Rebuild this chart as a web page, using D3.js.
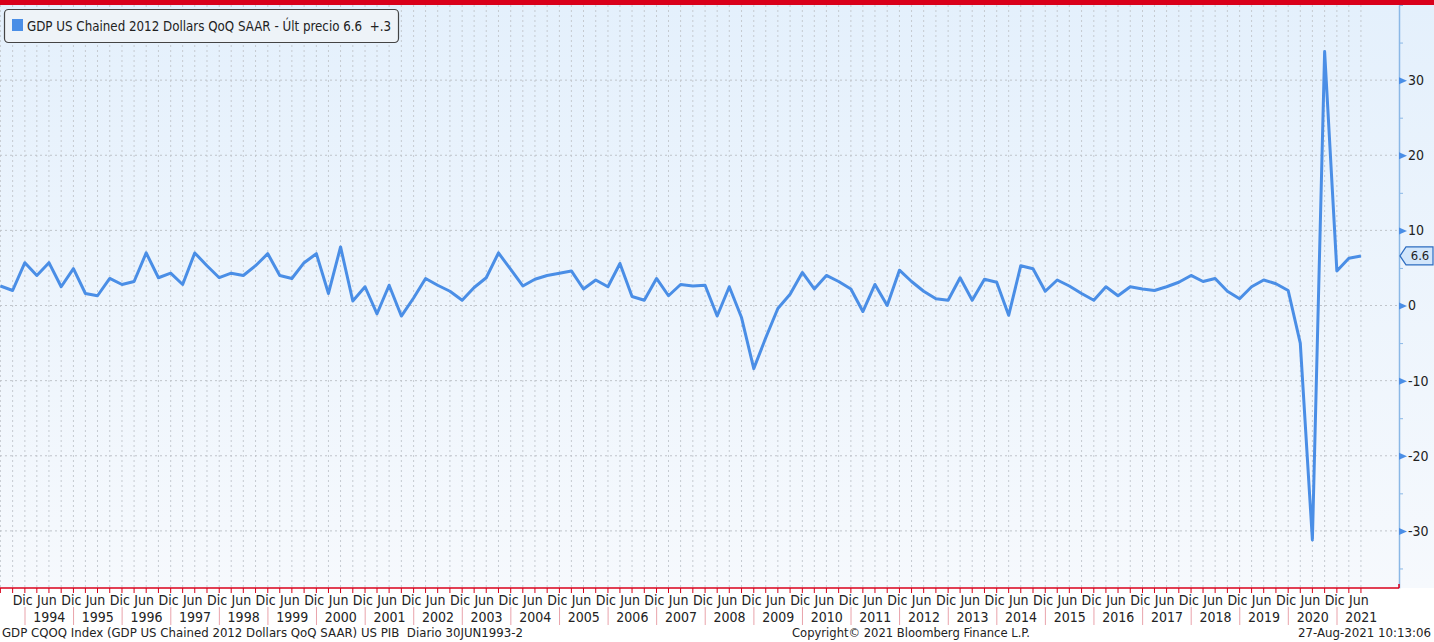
<!DOCTYPE html>
<html>
<head>
<meta charset="utf-8">
<script src="https://cdn.jsdelivr.net/npm/d3@7"></script>
<style>
  body { margin: 0; background: #fff; }
  svg text { font-family: 'DejaVu Sans Condensed', 'Liberation Sans Narrow', 'Liberation Sans', sans-serif; fill: #222; white-space: pre; }
</style>
</head>
<body>
<svg id="chart" width="1434" height="642"></svg>
<script>
// quarterly GDP QoQ SAAR, 1993 Q2 .. 2021 Q2
const firstYear = 1993
const firstQuarter = 2
const gdpQoQ = [
    2.6, 2.0, 5.7,
    4.0, 5.7, 2.5, 4.9,
    1.6, 1.3, 3.6, 2.8,
    3.2, 7.0, 3.7, 4.3,
    2.8, 7.0, 5.3, 3.7,
    4.3, 4.0, 5.3, 6.9,
    4.0, 3.6, 5.7, 6.9,
    1.6, 7.8, 0.6, 2.5,
    -1.1, 2.7, -1.4, 1.0,
    3.6, 2.7, 1.9, 0.7,
    2.4, 3.7, 7.0, 4.8,
    2.6, 3.5, 4.0, 4.3,
    4.6, 2.2, 3.4, 2.5,
    5.6, 1.2, 0.7, 3.6,
    1.3, 2.8, 2.6, 2.7,
    -1.4, 2.5, -1.6, -8.4,
    -4.3, -0.4, 1.5, 4.4,
    2.2, 4.0, 3.2, 2.2,
    -0.8, 2.8, 0.0, 4.7,
    3.2, 1.9, 0.9, 0.7,
    3.7, 0.7, 3.5, 3.1,
    -1.3, 5.3, 4.9, 1.9,
    3.4, 2.6, 1.6, 0.7,
    2.5, 1.3, 2.5, 2.2,
    2.0, 2.5, 3.1, 4.0,
    3.2, 3.6, 1.9, 0.9,
    2.5, 3.4, 2.9, 2.0,
    -5.0, -31.2, 33.8, 4.6,
    6.3, 6.6
]
const yearLabels = [1994, 1995, 1996, 1997, 1998, 1999, 2000, 2001, 2002, 2003, 2004, 2005, 2006, 2007,
    2008, 2009, 2010, 2011, 2012, 2013, 2014, 2015, 2016, 2017, 2018, 2019, 2020, 2021]
const monthLabels = ['Dic', 'Jun']
const yMajorTicks = [-30, -20, -10, 0, 10, 20, 30]
const yMinorTicks = [-35, -25, -15, -5, 5, 15, 25, 35, 40]

const legendText = 'GDP US Chained 2012 Dollars QoQ SAAR - Últ precio 6.6  +.3'
const footLeft = 'GDP CQOQ Index (GDP US Chained 2012 Dollars QoQ SAAR) US PIB  Diario 30JUN1993-2'
const footMid = 'Copyright\u00A9 2021 Bloomberg Finance L.P.'
const footRight = '27-Aug-2021 10:13:06'

const lineColor = '#4a8ee6'
const axisRed = '#d9001b'

let W = 1434, H = 642
let plot = {top: 5, left: 0, right: 1399, bottom: 588}

// quarter-end dates for each value
let gdp = gdpQoQ.map(function(v, i) {
    let q = firstQuarter - 1 + i
    let yr = firstYear + Math.floor(q / 4)
    let m = (q % 4) * 3 + 2
    return {date: new Date(yr, m + 1, 0), value: v}
})

let xScale = d3.scaleTime()
    .domain([new Date(1994, 0, 1), new Date(2021, 0, 1)])
    .range([25, 1337])
let yScale = d3.scaleLinear().domain([-37.6, 40]).range([plot.bottom, plot.top])

let svg = d3.select('#chart')

// background
let defs = svg.append('defs')
let grad = defs.append('linearGradient').attr('id', 'bg').attr('x1', 0).attr('y1', 0).attr('x2', 0).attr('y2', 1)
grad.append('stop').attr('offset', '0%').attr('stop-color', '#e4f0fc')
grad.append('stop').attr('offset', '100%').attr('stop-color', '#f6f9fd')

svg.append('rect').attr('x', 0).attr('y', plot.top).attr('width', W).attr('height', plot.bottom - plot.top)
    .attr('fill', 'url(#bg)')
svg.append('rect').attr('x', 0).attr('y', 0).attr('width', W).attr('height', plot.top).attr('fill', axisRed)

// grid
svg.append('g').selectAll('line')
    .data(gdp)
    .enter().append('line')
    .attr('x1', d => xScale(d.date)).attr('x2', d => xScale(d.date))
    .attr('y1', plot.top).attr('y2', plot.bottom)
    .attr('stroke', '#c5cad0').attr('stroke-width', 1).attr('stroke-dasharray', '2,3')

svg.append('g').selectAll('line')
    .data(yMajorTicks)
    .enter().append('line')
    .attr('x1', plot.left).attr('x2', plot.right)
    .attr('y1', d => yScale(d)).attr('y2', d => yScale(d))
    .attr('stroke', '#bfc4ca').attr('stroke-width', 1).attr('stroke-dasharray', '2,3')

// the series
let line = d3.line().x(d => xScale(d.date)).y(d => yScale(d.value))
svg.append('path')
    .datum(gdp)
    .attr('d', line)
    .attr('fill', 'none')
    .attr('stroke', lineColor)
    .attr('stroke-width', 3)
    .attr('stroke-linejoin', 'round')

// right axis
let yAxisG = svg.append('g')
    .attr('transform', `translate(${plot.right},0)`)
    .call(d3.axisRight(yScale).tickValues(yMajorTicks).tickSize(0).tickPadding(9)
        .tickFormat(d => String(d)))
yAxisG.select('.domain').attr('stroke', '#8bb8e6').attr('stroke-width', 1.5)
yAxisG.selectAll('.tick text').attr('font-size', 14).attr('fill', '#333')
    .style('font-family', "'DejaVu Sans Condensed', 'Liberation Sans Narrow', sans-serif")
yAxisG.selectAll('.tick').append('path')
    .attr('d', 'M0,-3.5L8,0L0,3.5Z')
    .attr('fill', '#4a8ee6')

svg.append('g')
    .attr('transform', `translate(${plot.right},0)`)
    .call(d3.axisRight(yScale).tickValues(yMinorTicks).tickSize(4).tickFormat(''))
    .call(g => g.select('.domain').remove())
    .call(g => g.selectAll('.tick line').attr('stroke', '#8bb8e6'))

// last value tag
let last = gdp[gdp.length - 1]
let ly = yScale(last.value)
svg.append('path')
    .attr('d', `M${plot.right + 1},${ly} L${plot.right + 7},${ly - 9} L${W - 1},${ly - 9} L${W - 1},${ly + 9} L${plot.right + 7},${ly + 9} Z`)
    .attr('fill', '#d2e6fb').attr('stroke', '#2d6cc0').attr('stroke-width', 1.2)
svg.append('text')
    .attr('x', (plot.right + 7 + W) / 2).attr('y', ly + 4.5)
    .attr('text-anchor', 'middle').attr('font-size', 13).attr('fill', '#1d3f78')
    .text(d3.format('.1f')(last.value))

// bottom axis
svg.append('line')
    .attr('x1', 0).attr('x2', plot.right)
    .attr('y1', plot.bottom).attr('y2', plot.bottom)
    .attr('stroke', axisRed).attr('stroke-width', 1.5)
svg.append('line')
    .attr('x1', plot.right).attr('x2', plot.right)
    .attr('y1', plot.bottom - 4).attr('y2', plot.bottom)
    .attr('stroke', axisRed).attr('stroke-width', 1.5)
svg.append('g').selectAll('line')
    .data(gdp)
    .enter().append('line')
    .attr('x1', d => xScale(d.date)).attr('x2', d => xScale(d.date))
    .attr('y1', plot.bottom).attr('y2', plot.bottom + 5)
    .attr('stroke', axisRed).attr('stroke-width', 1)

let monthTicks = []
yearLabels.forEach(function(y) {
    monthTicks.push({date: new Date(y - 1, 11, 15), label: monthLabels[0]})
    monthTicks.push({date: new Date(y, 5, 15), label: monthLabels[1]})
})
svg.append('g').selectAll('text')
    .data(monthTicks)
    .enter().append('text')
    .attr('x', d => xScale(d.date))
    .attr('y', 605)
    .attr('text-anchor', 'middle')
    .attr('font-size', 14)
    .text(d => d.label)

svg.append('g').selectAll('line')
    .data(yearLabels)
    .enter().append('line')
    .attr('x1', d => xScale(new Date(d, 0, 1))).attr('x2', d => xScale(new Date(d, 0, 1)))
    .attr('y1', 607).attr('y2', 625)
    .attr('stroke', '#e9a3ab').attr('stroke-width', 1)

svg.append('g').selectAll('text')
    .data(yearLabels)
    .enter().append('text')
    .attr('x', d => (xScale(new Date(d, 0, 1)) + Math.min(xScale(new Date(d + 1, 0, 1)), plot.right)) / 2)
    .attr('y', 622)
    .attr('text-anchor', 'middle')
    .attr('font-size', 14)
    .text(d => d)

// legend
svg.append('rect')
    .attr('x', 4.5).attr('y', 9.5).attr('width', 394).attr('height', 33).attr('rx', 4)
    .attr('fill', '#eef3f8').attr('stroke', '#444').attr('stroke-width', 1.2)
svg.append('rect')
    .attr('x', 12).attr('y', 19).attr('width', 11).attr('height', 12)
    .attr('fill', lineColor)
svg.append('text')
    .attr('x', 27).attr('y', 31)
    .attr('font-size', 14)
    .attr('textLength', 364).attr('lengthAdjust', 'spacingAndGlyphs')
    .text(legendText)

// footer
svg.append('text').attr('x', 2).attr('y', 637).attr('font-size', 13)
    .attr('textLength', 521).attr('lengthAdjust', 'spacingAndGlyphs').text(footLeft)
svg.append('text').attr('x', 792).attr('y', 637).attr('font-size', 13)
    .attr('textLength', 238).attr('lengthAdjust', 'spacingAndGlyphs').text(footMid)
svg.append('text').attr('x', 1431).attr('y', 637).attr('font-size', 13)
    .attr('textLength', 133).attr('lengthAdjust', 'spacingAndGlyphs')
    .attr('text-anchor', 'end').text(footRight)
</script>
</body>
</html>
